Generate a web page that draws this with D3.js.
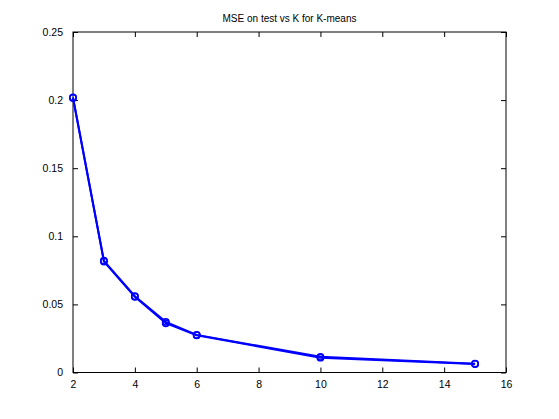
<!DOCTYPE html>
<html>
<head>
<meta charset="utf-8">
<script src="https://cdn.jsdelivr.net/npm/d3@7"></script>
<style>
  body { margin: 0; background: #fff; }
  text { font-family: "Liberation Sans", Arial, sans-serif; }
</style>
</head>
<body>
<div id="viz"></div>
<script>
var kValues = [2, 3, 4, 5, 6, 10, 15];
var mseRun1 = [0.2020, 0.0820, 0.0560, 0.0372, 0.0276, 0.0115, 0.0065];
var mseRun2 = [0.2015, 0.0815, 0.0556, 0.0362, 0.0273, 0.0109, 0.0062];
var xTicks = [2, 4, 6, 8, 10, 12, 14, 16];
var yTicks = [0, 0.05, 0.1, 0.15, 0.2, 0.25];
var title = 'MSE on test vs K for K-means';

var width = 559, height = 419;
var boxLeft = 73, boxRight = 506, boxTop = 32, boxBottom = 372.5;

var svg = d3.select('#viz').append('svg')
  .attr('width', width)
  .attr('height', height)
  .style('background', '#fff');

var x = d3.scaleLinear().domain([2, 16]).range([boxLeft, boxRight]);
var y = d3.scaleLinear().domain([0, 0.25]).range([boxBottom, boxTop]);

// box
svg.append('rect')
  .attr('x', boxLeft).attr('y', boxTop)
  .attr('width', boxRight - boxLeft).attr('height', boxBottom - boxTop)
  .attr('fill', '#fff').attr('stroke', '#000').attr('stroke-width', 1);

function styleAxis(g) {
  g.select('.domain').remove();
  g.selectAll('line').attr('stroke', '#000');
  g.selectAll('text').attr('font-size', 10.5).attr('fill', '#000');
}

svg.append('g').attr('transform', 'translate(0,' + boxBottom + ')')
  .call(d3.axisBottom(x).tickValues(xTicks).tickSizeInner(-5).tickSizeOuter(0).tickPadding(8))
  .call(styleAxis);
svg.append('g').attr('transform', 'translate(0,' + boxTop + ')')
  .call(d3.axisTop(x).tickValues(xTicks).tickSizeInner(-5).tickSizeOuter(0).tickFormat(''))
  .call(styleAxis);
svg.append('g').attr('transform', 'translate(' + boxLeft + ',0)')
  .call(d3.axisLeft(y).tickValues(yTicks).tickSizeInner(-5).tickSizeOuter(0).tickPadding(10).tickFormat(d3.format('')))
  .call(styleAxis);
svg.append('g').attr('transform', 'translate(' + boxRight + ',0)')
  .call(d3.axisRight(y).tickValues(yTicks).tickSizeInner(-5).tickSizeOuter(0).tickFormat(''))
  .call(styleAxis);

svg.append('text')
  .attr('x', (boxLeft + boxRight) / 2).attr('y', 22)
  .attr('text-anchor', 'middle').attr('font-size', 10)
  .text(title);

var line = d3.line()
  .x(function(d, i) { return x(kValues[i]); })
  .y(function(d) { return y(d); });

[mseRun1, mseRun2].forEach(function(run) {
  svg.append('path')
    .datum(run)
    .attr('d', line)
    .attr('fill', 'none')
    .attr('stroke', '#0000ff')
    .attr('stroke-width', 2);
  svg.append('g').selectAll('circle').data(run)
    .enter().append('circle')
      .attr('cx', function(d, i) { return x(kValues[i]); })
      .attr('cy', function(d) { return y(d); })
      .attr('r', 3.2)
      .attr('fill', 'none')
      .attr('stroke', '#0000ff')
      .attr('stroke-width', 1.5);
});
</script>
</body>
</html>
